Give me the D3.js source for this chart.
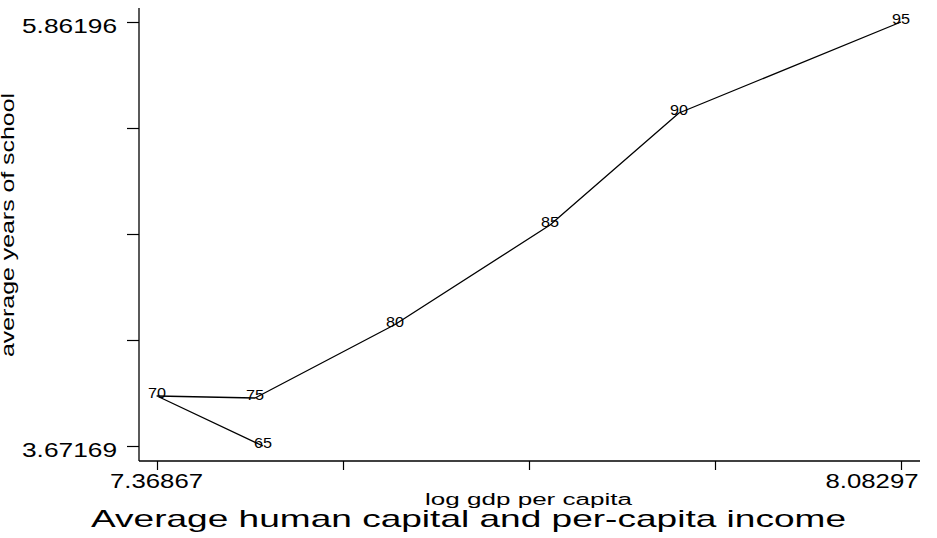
<!DOCTYPE html>
<html>
<head>
<meta charset="utf-8">
<script src="https://cdn.jsdelivr.net/npm/d3@7"></script>
<style>
  html, body { margin: 0; padding: 0; background: #fff; }
  svg { display: block; }
  text { font-family: "Liberation Sans", Arial, Helvetica, sans-serif; fill: #000; }
</style>
</head>
<body>
<svg id="chart" width="937" height="538"></svg>
<script>
// ---- data ----
const years = ["65", "70", "75", "80", "85", "90", "95"];
const logGdp = [7.4704, 7.36867, 7.4628, 7.5972, 7.7460, 7.8698, 8.08297];
const avgSchool = [3.67169, 3.9300, 3.9196, 4.2993, 4.8133, 5.3919, 5.86196];
const xTicks = [7.36867, 7.54725, 7.72582, 7.90440, 8.08297];
const yTicks = [3.67169, 4.21926, 4.76683, 5.31439, 5.86196];
const xTickLabels = ["7.36867", "", "", "", "8.08297"];
const yTickLabels = ["3.67169", "", "", "", "5.86196"];
const titleText = "Average human capital and per-capita income";
const xTitle = "log gdp per capita";
const yTitle = "average years of school";

const data = years.map((y, i) => ({ year: y, x: logGdp[i], y: avgSchool[i] }));

const svg = d3.select("#chart");
const x = d3.scaleLinear().domain([7.36867, 8.08297]).range([157, 901]);
const y = d3.scaleLinear().domain([3.67169, 5.86196]).range([446, 22]);

const axisX = 139, axisY = 461;

// axis lines
svg.append("line").attr("x1", axisX).attr("x2", axisX).attr("y1", 8).attr("y2", axisY)
  .attr("stroke", "#000").attr("stroke-width", 1.3);
svg.append("line").attr("x1", axisX).attr("x2", 920).attr("y1", axisY).attr("y2", axisY)
  .attr("stroke", "#000").attr("stroke-width", 1.3);

// y axis ticks
const gy = svg.append("g").attr("transform", `translate(${axisX},0)`)
  .call(d3.axisLeft(y).tickValues(yTicks).tickSize(12).tickPadding(10)
    .tickFormat((d, i) => yTickLabels[i]));
gy.select(".domain").remove();
gy.selectAll(".tick line").attr("stroke", "#000").attr("stroke-width", 1.2);
gy.selectAll(".tick text")
  .attr("dy", null).attr("y", 10)
  .style("font-size", "20px").style("font-family", "Liberation Sans, Arial, sans-serif")
  .each(function () { if (this.textContent) d3.select(this).attr("textLength", 95).attr("lengthAdjust", "spacingAndGlyphs"); });

// x axis ticks
const gx = svg.append("g").attr("transform", `translate(0,${axisY})`)
  .call(d3.axisBottom(x).tickValues(xTicks).tickSize(9)
    .tickFormat((d, i) => xTickLabels[i]));
gx.select(".domain").remove();
gx.selectAll(".tick line").attr("stroke", "#000").attr("stroke-width", 1.2);
gx.selectAll(".tick text")
  .attr("dy", null).attr("y", 27)
  .style("font-size", "20px").style("font-family", "Liberation Sans, Arial, sans-serif")
  .each(function (d, i) {
    if (!this.textContent) return;
    const t = d3.select(this).attr("textLength", 93).attr("lengthAdjust", "spacingAndGlyphs");
    if (i === xTicks.length - 1) t.attr("text-anchor", "end").attr("x", 918 - x(d));
    else t.attr("x", -1);
  });

// connected line
const line = d3.line().x(d => x(d.x)).y(d => y(d.y));
svg.append("path").datum(data).attr("d", line)
  .attr("fill", "none").attr("stroke", "#000").attr("stroke-width", 1.3)
  .attr("stroke-linejoin", "round");

// point labels
svg.append("g").selectAll("text").data(data).join("text")
  .attr("x", d => x(d.x)).attr("y", d => y(d.y) + 2)
  .attr("text-anchor", "middle")
  .attr("textLength", 18).attr("lengthAdjust", "spacingAndGlyphs")
  .style("font-size", "15px")
  .text(d => d.year);

// axis titles
svg.append("text").attr("x", 528.5).attr("y", 505).attr("text-anchor", "middle")
  .attr("textLength", 207).attr("lengthAdjust", "spacingAndGlyphs")
  .style("font-size", "16px").text(xTitle);

svg.append("text").attr("transform", "translate(14,225) rotate(-90)")
  .attr("text-anchor", "middle")
  .attr("textLength", 264).attr("lengthAdjust", "spacingAndGlyphs")
  .style("font-size", "18px").text(yTitle);

// chart title
svg.append("text").attr("x", 468.5).attr("y", 527).attr("text-anchor", "middle")
  .attr("textLength", 755).attr("lengthAdjust", "spacingAndGlyphs")
  .style("font-size", "24px").text(titleText);
</script>
</body>
</html>
